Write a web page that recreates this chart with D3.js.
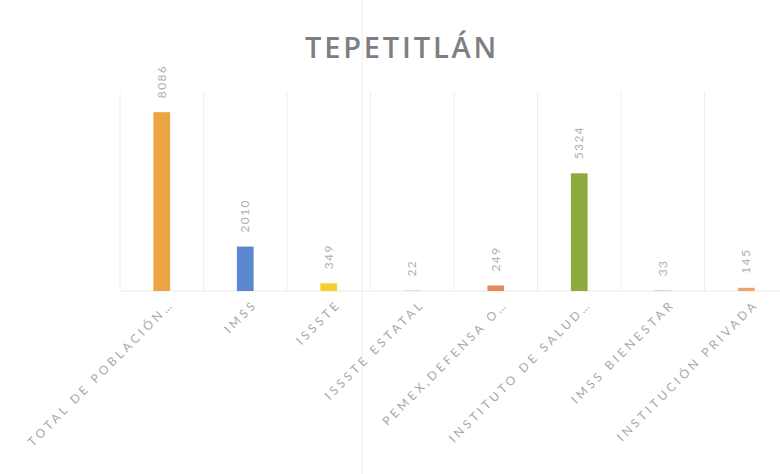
<!DOCTYPE html>
<html>
<head>
<meta charset="utf-8">
<script src="https://cdn.jsdelivr.net/npm/d3@7"></script>
<style>
  body { margin: 0; background: #fff; }
</style>
</head>
<body>
<script>
// data
const categories = [
  "TOTAL DE POBLACIÓN…", "IMSS", "ISSSTE", "ISSSTE ESTATAL",
  "PEMEX,DEFENSA O…", "INSTITUTO DE SALUD…", "IMSS BIENESTAR", "INSTITUCIÓN PRIVADA"
]
const values = [8086, 2010, 349, 22, 249, 5324, 33, 145]
const barColors = ["#eba542", "#5b87cf", "#f3d02e", "#c9c9c9", "#e38c55", "#8eab3d", "#c9c9c9", "#f2a06e"]

const width = 780, height = 474
const marginTop = 92, marginBottom = 183, marginLeft = 120, marginRight = -8

const svg = d3.select("body").append("svg")
  .attr("width", width)
  .attr("height", height)
  .attr("viewBox", [0, 0, width, height])

const x = d3.scaleBand()
  .domain(categories)
  .range([marginLeft, width - marginRight])
  .paddingInner(0.8).paddingOuter(0.4)

const xGrid = d3.scaleBand().domain(categories).range([marginLeft, width - marginRight])

const y = d3.scaleLinear()
  .domain([0, 9000])
  .range([height - marginBottom, marginTop])

// scan fold
svg.append("line")
  .attr("x1", 362).attr("x2", 362).attr("y1", 0).attr("y2", height)
  .attr("stroke", "#ececec")

// vertical gridlines between categories
svg.append("g")
  .selectAll("line")
  .data(categories)
  .join("line")
  .attr("x1", d => xGrid(d)).attr("x2", d => xGrid(d))
  .attr("y1", y(9000)).attr("y2", y(0))
  .attr("stroke", "#eeeeee")

// baseline
svg.append("line")
  .attr("x1", marginLeft).attr("x2", width)
  .attr("y1", y(0)).attr("y2", y(0))
  .attr("stroke", "#eaeaea")

// bars
svg.append("g")
  .selectAll("rect")
  .data(values)
  .join("rect")
  .attr("x", (d, i) => x(categories[i]))
  .attr("width", x.bandwidth())
  .attr("y", d => y(d))
  .attr("height", d => y(0) - y(d))
  .attr("fill", (d, i) => barColors[i])

// value labels, rotated
svg.append("g")
  .selectAll("text")
  .data(values)
  .join("text")
  .attr("transform", (d, i) => `translate(${x(categories[i]) + x.bandwidth() / 2},${y(d) - 14}) rotate(-90)`)
  .attr("dy", "0.35em")
  .attr("font-family", "Lato, sans-serif")
  .attr("font-size", 12)
  .attr("letter-spacing", 1.4)
  .attr("fill", "#b0b0b0")
  .text(d => d)

// category labels at -45
svg.append("g")
  .selectAll("text")
  .data(categories)
  .join("text")
  .attr("transform", d => `translate(${x(d) + x.bandwidth() / 2 + 10},${y(0) + 11}) rotate(-45)`)
  .attr("text-anchor", "end")
  .attr("dy", "0.35em")
  .attr("font-family", "Lato, sans-serif")
  .attr("font-size", 12)
  .attr("letter-spacing", 3.4)
  .attr("fill", "#a8a8a8")
  .text(d => d)

// title
svg.append("text")
  .attr("x", 402)
  .attr("y", 58)
  .attr("text-anchor", "middle")
  .attr("font-family", "'Open Sans', sans-serif")
  .attr("font-weight", 600)
  .attr("font-size", 29)
  .attr("letter-spacing", 2.8)
  .attr("fill", "#7e7e83")
  .text("TEPETITLÁN")
</script>
</body>
</html>
